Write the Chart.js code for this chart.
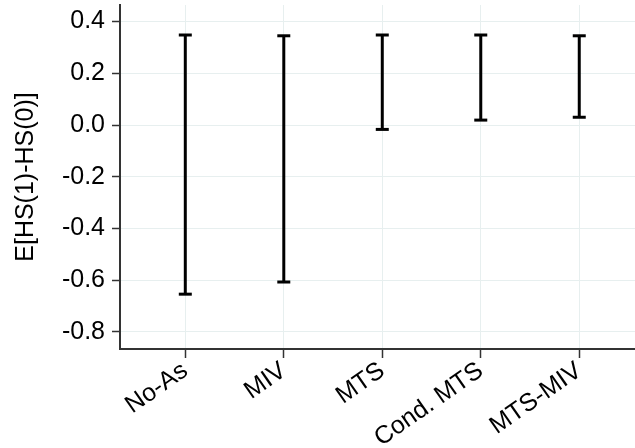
<!DOCTYPE html>
<html>
<head>
<meta charset="utf-8">
<script src="https://cdn.jsdelivr.net/npm/chart.js@4"></script>
<style>
  html, body { margin: 0; padding: 0; background: #fff; }
  #wrap { width: 635px; height: 448px; }
</style>
</head>
<body>
<div id="wrap"><canvas id="chart" width="635" height="448"></canvas></div>
<script>
// bounds of E[HS(1)-HS(0)] under each assumption
const categories = ["No-As", "MIV", "MTS", "Cond. MTS", "MTS-MIV"];
const lowerBounds = [-0.654, -0.607, -0.017, 0.019, 0.030];
const upperBounds = [0.348, 0.345, 0.348, 0.348, 0.345];
const yTicks = [-0.8, -0.6, -0.4, -0.2, 0.0, 0.2, 0.4];

const axisColor = "#333333";
const gridColor = "#e7efef";
const font = { family: "'Liberation Sans', Arial, Helvetica, sans-serif", size: 25 };

const datasets = categories.map((c, i) => ({
  label: c,
  data: [
    { x: i + 1, y: lowerBounds[i] },
    { x: i + 1, y: upperBounds[i] },
  ],
  showLine: true,
  borderColor: "#000",
  borderWidth: 3,
  pointStyle: "line",
  pointRadius: 6.5,
  pointBorderWidth: 3,
  pointBorderColor: "#000",
}));

new Chart(document.getElementById("chart"), {
  type: "scatter",
  data: { datasets: datasets },
  options: {
    responsive: false,
    animation: false,
    layout: { autoPadding: false, padding: { top: 5, right: 0, left: 0, bottom: 0 } },
    plugins: { legend: { display: false }, tooltip: { enabled: false } },
    scales: {
      x: {
        type: "linear",
        min: 0.337,
        max: 5.566,
        afterBuildTicks: (scale) => {
          scale.ticks = categories.map((c, i) => ({ value: i + 1 }));
        },
        afterFit: (scale) => {
          scale.height = 99;
          scale.paddingLeft = 0;
          scale.paddingRight = 0;
        },
        grid: { color: gridColor, lineWidth: 1, tickColor: axisColor, tickLength: 9, tickWidth: 1.5 },
        border: { color: axisColor, width: 2 },
        ticks: {
          autoSkip: false,
          minRotation: 35,
          maxRotation: 35,
          padding: -2,
          color: "#000",
          font: font,
          callback: (v) => categories[Math.round(v) - 1],
        },
      },
      y: {
        min: -0.866,
        max: 0.464,
        afterBuildTicks: (scale) => {
          scale.ticks = yTicks.map((v) => ({ value: v }));
        },
        afterFit: (scale) => {
          scale.width = 120;
          scale.paddingTop = 0;
          scale.paddingBottom = 0;
        },
        grid: { color: gridColor, lineWidth: 1, tickColor: axisColor, tickLength: 8, tickWidth: 1.5 },
        border: { color: axisColor, width: 2 },
        ticks: {
          padding: 7,
          color: "#000",
          font: font,
          callback: (v) => v.toFixed(1),
        },
        title: {
          display: true,
          text: "E[HS(1)-HS(0)]",
          color: "#000",
          font: { family: font.family, size: 25 },
          padding: { top: 11, bottom: 0 },
        },
      },
    },
  },
});
</script>
</body>
</html>
